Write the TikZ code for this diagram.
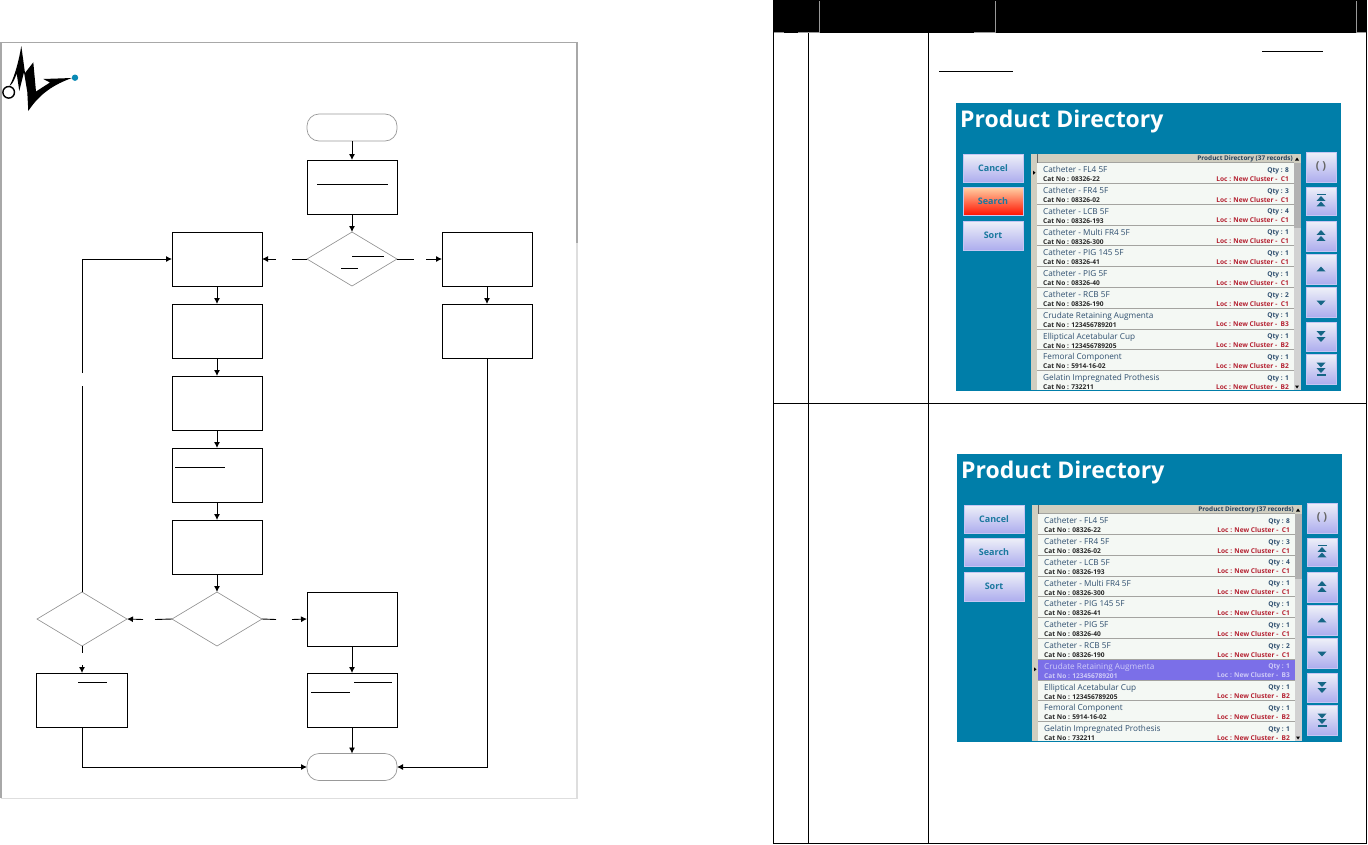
\documentclass[tikz,border=0pt]{standalone}
\usepackage{fontspec}
\setmainfont{Open Sans}
\usetikzlibrary{arrows.meta,shapes.geometric}
\definecolor{shotbg}{HTML}{007EA9}
\definecolor{framedark}{HTML}{A8A8A8}
\definecolor{framelight}{HTML}{DEDEDE}
\definecolor{gridhead}{HTML}{D0CEC0}
\definecolor{rowbg}{HTML}{F4F8F4}
\definecolor{rowsep}{HTML}{A4A4A0}
\definecolor{selrow}{HTML}{7B6FE8}
\definecolor{btntop}{HTML}{EEF0F8}
\definecolor{btnbot}{HTML}{ADADEE}
\definecolor{btntext}{HTML}{1A789E}
\definecolor{nametext}{HTML}{2F4F6F}
\definecolor{loctext}{HTML}{B42030}
\definecolor{seltext}{HTML}{CFCBF8}
\definecolor{logoblue}{HTML}{0A8AB5}
\tikzset{
  fbox/.style={draw=black,line width=0.9pt,minimum width=90pt,minimum height=54pt,inner sep=0pt,outer sep=0pt},
  fterm/.style={draw=gray!80,line width=0.7pt,rounded corners=12pt,minimum width=90pt,minimum height=27pt,inner sep=0pt,outer sep=0pt},
  fdia/.style={diamond,draw=gray!90,line width=0.6pt,minimum width=90pt,minimum height=54pt,inner sep=0pt,outer sep=0pt},
  fline/.style={line width=0.9pt,draw=black},
  farrow/.style={fline,-{Latex[length=6pt,width=6pt]}},
  mark line/.style={line width=0.8pt,black},
  tableline/.style={line width=1.2pt,black},
  headmark/.style={line width=0.8pt,draw=gray!80},
  shotbtn/.style={top color=btntop,bottom color=btnbot,draw=btnbot!70!white,line width=0.4pt},
  hotbtn/.style={top color=orange!35!white,bottom color=red!85!orange,draw=btnbot!70!white,line width=0.4pt},
  btnlabel/.style={inner sep=0pt,font=\fontsize{9}{10}\selectfont\bfseries,text=btntext},
  icon/.style={fill=btntext!85!black},
}
\newcommand{\upT}[2]{\fill[icon] (#1-4.5,#2+2.4) -- (#1+4.5,#2+2.4) -- (#1,#2-2.4) -- cycle;}
\newcommand{\dnT}[2]{\fill[icon] (#1-4.5,#2-2.4) -- (#1+4.5,#2-2.4) -- (#1,#2+2.4) -- cycle;}
\newcommand{\barI}[2]{\fill[icon] (#1-4.5,#2-0.7) rectangle (#1+4.5,#2+0.7);}
% #1 id, #2 highlighted row, #3 row with the marker, #4 style of the Search button
\newcommand{\shotdraw}[4]{%
  \fill[shotbg] (0,0) rectangle (385,288);
  \node[anchor=base west,inner sep=0pt,text=white,font=\fontsize{23}{25}\selectfont\bfseries] (title#1) at (4,24) {Product Directory};
  \shade[shotbtn] (7,51) rectangle (67,79);
  \shade[#4] (7,84) rectangle (67,112);
  \shade[shotbtn] (7,118) rectangle (67,147);
  \node[btnlabel] (cancel#1) at (37,65) {Cancel};
  \node[btnlabel] (search#1) at (37,98) {Search};
  \node[btnlabel] (sort#1) at (37,132.5) {Sort};
  \fill[rowbg] (75,51) rectangle (345,287);
  \fill[gridhead] (75,51) rectangle (345,59.7);
  \fill[gridhead] (75,59.7) rectangle (81,287);
  \begin{scope}
    \clip (75,51) rectangle (345,287);
    \foreach \i/\n/\c/\q/\l in {
      0/Catheter - FL4 5F/08326-22/8/C1,
      1/Catheter - FR4 5F/08326-02/3/C1,
      2/Catheter - LCB 5F/08326-193/4/C1,
      3/Catheter - Multi FR4 5F/08326-300/1/C1,
      4/Catheter - PIG 145 5F/08326-41/1/C1,
      5/Catheter - PIG 5F/08326-40/1/C1,
      6/Catheter - RCB 5F/08326-190/2/C1,
      7/Crudate Retaining Augmenta/123456789201/1/B3,
      8/Elliptical Acetabular Cup/123456789205/1/B2,
      9/Femoral Component/5914-16-02/1/B2,
      10/Gelatin Impregnated Prothesis/732211/1/B2}{
      \pgfmathsetmacro{\rt}{59.7+20.8*\i}
      \ifnum\i=#2
        \fill[selrow] (81,\rt) rectangle (338,\rt+20.8);
        \def\namecol{seltext}\def\catcol{seltext}\def\qtycol{seltext}\def\loccol{seltext}
      \else
        \def\namecol{nametext}\def\catcol{black!85}\def\qtycol{nametext}\def\loccol{loctext}
      \fi
      \ifnum\i=#3
        \fill[black] (77,\rt+8) -- (79.5,\rt+10) -- (77,\rt+12) -- cycle;
      \fi
      \draw[rowsep,line width=1.1pt] (81,\rt) -- (338,\rt);
      \node[anchor=base west,inner sep=0pt,text=\namecol,font=\fontsize{8.2}{9}\selectfont] (name#1\i) at (87,\rt+10) {\n};
      \node[anchor=base west,inner sep=0pt,text=\catcol,font=\fontsize{6.6}{8}\selectfont\bfseries] (cat#1\i) at (87,\rt+19) {Cat No : \c};
      \node[anchor=base east,inner sep=0pt,text=\qtycol,font=\fontsize{6.6}{8}\selectfont\bfseries] (qty#1\i) at (333,\rt+9.5) {Qty : \q};
      \node[anchor=base east,inner sep=0pt,text=\loccol,font=\fontsize{6.6}{8}\selectfont\bfseries] (loc#1\i) at (333,\rt+18.5) {Loc : New Cluster -\ \ \l};
    }
  \end{scope}
  \draw[black!60,line width=0.6pt] (81,51) -- (81,59.7);
  \fill[gray!35] (338,59.7) rectangle (345,287);
  \fill[gray!60] (338,59.7) rectangle (345,125);
  \node[anchor=base east,inner sep=0pt,text=nametext!80!black,font=\fontsize{6.4}{7}\selectfont\bfseries] (head#1) at (337,57.5) {Product Directory (37 records)};
  \fill[black] (339,57.5) -- (343,57.5) -- (341,54.5) -- cycle;
  \fill[black] (339,282.5) -- (343,282.5) -- (341,285.5) -- cycle;
  \shade[shotbtn] (350,49) rectangle (380,79);
  \shade[shotbtn] (350,84) rectangle (380,112);
  \shade[shotbtn] (350,118) rectangle (380,148);
  \shade[shotbtn] (350,151.5) rectangle (380,181);
  \shade[shotbtn] (350,184.5) rectangle (380,214);
  \shade[shotbtn] (350,219) rectangle (380,248);
  \shade[shotbtn] (350,251.5) rectangle (380,281);
  \node[inner sep=0pt,text=gray!80!black,font=\fontsize{11}{12}\selectfont\bfseries] (paren#1) at (365,63.5) {( )};
  \barI{365}{91.5} \upT{365}{95.5} \upT{365}{101}
  \upT{365}{129.5} \upT{365}{135.5}
  \upT{365}{166}
  \dnT{365}{200}
  \dnT{365}{230.5} \dnT{365}{236.5}
  \dnT{365}{262} \dnT{365}{267.5} \barI{365}{272}
}
\begin{document}
\begin{tikzpicture}[x=1pt,y=-1pt]
\useasboundingbox (0,0) rectangle (1368,844);
\fill[white] (0,0) rectangle (1368,844);
% page frame
\draw[framedark,line width=1.2pt] (1,798) -- (1,42.5) -- (577,42.5) -- (577,243);
\draw[framelight,line width=1.6pt] (577,243) -- (577,798.5) -- (1,798.5);
% logo
\fill[black] (9.5,86) .. controls (15,76) and (19,60) .. (21.3,46) -- (25,73) -- (33.3,62.3) -- (36,91.5) -- (50,82.5) -- (43.3,79) -- (72,78) .. controls (55,84) and (40,93) .. (28.3,111) -- (27.3,92) -- (24,72) -- (19.3,91) -- (16.7,73.5) .. controls (15,78) and (13,84) .. (9.5,86) -- cycle;
\draw[black,line width=1.4pt,fill=white] (8.7,92.3) circle (5.8pt);
\fill[logoblue] (75,77.7) circle (3.2pt);
% flow nodes
\node[fterm] (start) at (352,127.5) {};
\node[fbox] (b1) at (352,187) {};
\node[fdia] (d1) at (352,259) {};
\node[fbox] (l1) at (217,259) {};
\node[fbox] (r1) at (487,259) {};
\node[fbox] (r2) at (487,331) {};
\node[fbox] (l2) at (217,331) {};
\node[fbox] (l3) at (217,403) {};
\node[fbox] (l4) at (217,475) {};
\node[fbox] (l5) at (217,547) {};
\node[fdia] (d2) at (217,619) {};
\node[fdia] (d3) at (82,619) {};
\node[fbox] (m1) at (352,619) {};
\node[fbox,minimum width=91pt] (bl) at (82,700) {};
\node[fbox] (m2) at (352,700) {};
\node[fterm] (end) at (352,767) {};
% gap ends of connectors
\coordinate (g1a) at (292,259); \coordinate (g1b) at (276,259);
\coordinate (g2a) at (414,259); \coordinate (g2b) at (426,259);
\coordinate (g3a) at (155,619.5); \coordinate (g3b) at (143,619.5);
\coordinate (g4a) at (276,619.5); \coordinate (g4b) at (292,619.5);
\coordinate (g5a) at (82,653); \coordinate (g5b) at (82,665);
\coordinate (g6a) at (82,386); \coordinate (g6b) at (82,373);
% connectors
\draw[farrow] (start) -- (b1);
\draw[farrow] (b1) -- (d1);
\draw[fline] (d1.west) -- (g1a); \draw[farrow] (g1b) -- (l1.east);
\draw[fline] (d1.east) -- (g2a); \draw[farrow] (g2b) -- (r1.west);
\draw[farrow] (r1) -- (r2);
\draw[farrow] (l1) -- (l2);
\draw[farrow] (l2) -- (l3);
\draw[farrow] (l3) -- (l4);
\draw[farrow] (l4) -- (l5);
\draw[farrow] (l5) -- (d2);
\draw[fline] (d2.west) -- (g3a); \draw[farrow] (g3b) -- (d3.east);
\draw[fline] (d2.east) -- (g4a); \draw[farrow] (g4b) -- (m1.west);
\draw[fline] (d3.south) -- (g5a); \draw[farrow] (g5b) -- (bl.north);
\draw[fline] (d3.north) -- (g6a); \draw[farrow] (g6b) |- (l1.west);
\draw[farrow] (m1) -- (m2);
\draw[farrow] (m2) -- (end);
\draw[farrow] (bl.south) |- (end.west);
\draw[farrow] (r2.south) |- (end.east);
% underlines inside the boxes
\draw[mark line] (317,184.5) -- (388,184.5);
\draw[mark line] (352,256) -- (384,256);
\draw[mark line] (341,268) -- (358,268);
\draw[mark line] (175,467) -- (225,467);
\draw[mark line] (78,682.5) -- (107,682.5);
\draw[mark line] (354,682.5) -- (392,682.5);
\draw[mark line] (311,692.5) -- (350,692.5);
% table
\fill[black] (773,0) rectangle (1366.5,33);
\draw[headmark] (819.5,1) -- (819.5,32.5) -- (798,32.5);
\draw[headmark] (784,32.5) -- (774,32.5);
\draw[headmark] (995.5,1) -- (995.5,32.5) -- (974,32.5);
\draw[headmark] (1356.5,1) -- (1356.5,32.5) -- (1366,32.5);
\draw[tableline] (773.5,33) -- (773.5,843.5) -- (1366.5,843.5) -- (1366.5,0);
\draw[tableline] (808.2,33) -- (808.2,843.5);
\draw[tableline] (928.5,33) -- (928.5,843.5);
\draw[tableline] (773.5,403.5) -- (1366.5,403.5);
\draw[mark line] (1262,51) -- (1323,51);
\draw[mark line] (939,71.3) -- (1013,71.3);
% screenshots
\begin{scope}[shift={(956,103)}]
  \shotdraw{a}{-1}{0}{hotbtn}
\end{scope}
\begin{scope}[shift={(957,454)}]
  \shotdraw{b}{7}{7}{shotbtn}
\end{scope}
\end{tikzpicture}
\end{document}
